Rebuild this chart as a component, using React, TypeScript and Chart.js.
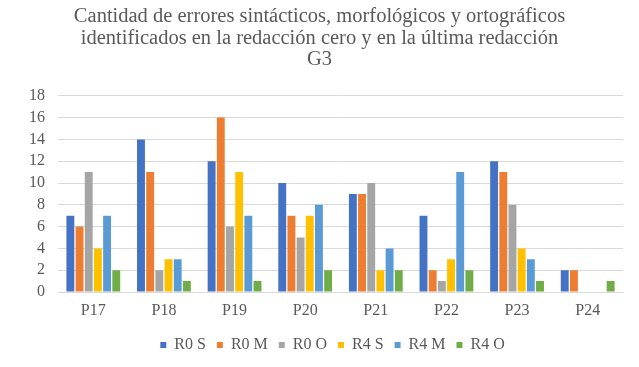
import React, { useEffect, useRef } from "react";
import { Chart, registerables } from "chart.js";

Chart.register(...registerables);

const categories = ["P17", "P18", "P19", "P20", "P21", "P22", "P23", "P24"];
const r0s = [7, 14, 12, 10, 9, 7, 12, 2];
const r0m = [6, 11, 16, 7, 9, 2, 11, 2];
const r0o = [11, 2, 6, 5, 10, 1, 8, 0];
const r4s = [4, 3, 11, 7, 2, 3, 4, 0];
const r4m = [7, 3, 7, 8, 4, 11, 3, 0];
const r4o = [2, 1, 1, 2, 2, 2, 1, 1];
const seriesNames = ["R0 S", "R0 M", "R0 O", "R4 S", "R4 M", "R4 O"];
const seriesColors = ["#4472C4", "#ED7D31", "#A5A5A5", "#FFC000", "#5B9BD5", "#70AD47"];
const titleLines = [
  "Cantidad de errores sintácticos, morfológicos y ortográficos",
  "identificados en la redacción cero y en la última redacción",
  "G3",
];

const FONT = "'Liberation Serif', 'Times New Roman', serif";

export default function App() {
  const ref = useRef<HTMLCanvasElement>(null);
  useEffect(() => {
    document.body.style.margin = "0";
    const values = [r0s, r0m, r0o, r4s, r4m, r4o];
    const shiftLegend = {
      id: "shiftLegend",
      afterLayout(chart: any) {
        const lg = chart.legend;
        if (lg) {
          lg.left += 13;
          lg.right += 13;
        }
      },
    };
    const chart = new Chart(ref.current!, {
      type: "bar",
      data: {
        labels: categories,
        datasets: values.map((v, i) => ({
          label: seriesNames[i],
          data: v,
          backgroundColor: seriesColors[i],
          borderWidth: 0,
          categoryPercentage: 0.78,
          barPercentage: 0.86,
        })),
      },
      plugins: [shiftLegend],
      options: {
        animation: false,
        responsive: false,
        layout: { padding: { left: 16, right: 16, top: 2, bottom: 4 } },
        font: { family: FONT },
        plugins: {
          title: {
            display: true,
            text: titleLines,
            color: "#595959",
            font: { family: FONT, size: 20.5, weight: "normal", lineHeight: 1.054 },
            padding: { top: 4, bottom: 25 },
          },
          legend: {
            position: "bottom",
            labels: {
              color: "#595959",
              font: { family: FONT, size: 16 },
              boxWidth: 6,
              boxHeight: 6,
              padding: 11,
              generateLabels(chart: any) {
                const items = Chart.defaults.plugins.legend.labels.generateLabels(chart);
                return items.map((it: any) => ({ ...it, lineWidth: 0 }));
              },
            },
          },
          tooltip: { enabled: false },
        },
        scales: {
          x: {
            grid: { display: false, drawTicks: false },
            border: { display: true, color: "#d9d9d9" },
            ticks: {
              color: "#595959",
              font: { family: FONT, size: 16 },
              padding: 9,
            },
            afterFit(scale: any) {
              scale.height = 34;
            },
          },
          y: {
            min: 0,
            max: 18,
            grid: { color: "#d9d9d9", drawTicks: false },
            border: { display: false },
            ticks: {
              stepSize: 2,
              autoSkip: false,
              color: "#595959",
              font: { family: FONT, size: 16 },
              padding: 13,
            },
            afterFit(scale: any) {
              scale.width = 42;
            },
          },
        },
      },
    });
    return () => chart.destroy();
  }, []);
  return (
    <div style={{ width: 639, height: 367 }}>
      <canvas ref={ref} width={639} height={367} />
    </div>
  );
}
